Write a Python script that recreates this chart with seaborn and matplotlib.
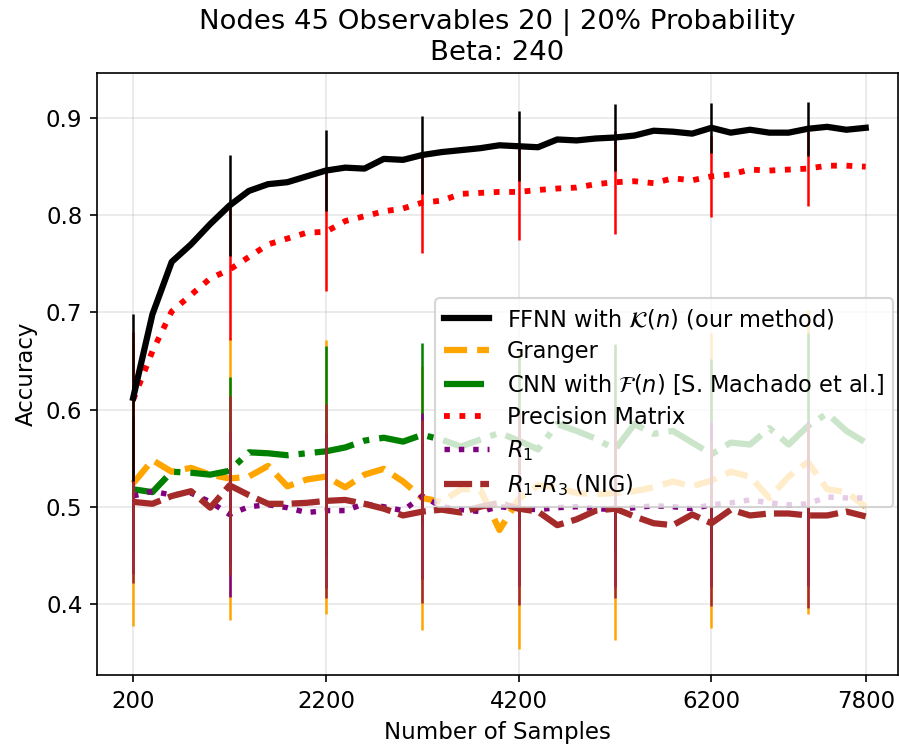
import matplotlib
matplotlib.use("Agg")
import matplotlib.pyplot as plt
import seaborn as sns

# Sample sizes (x axis) and per-method mean accuracy
samples = [200, 400, 600, 800, 1000, 1200, 1400, 1600, 1800, 2000,
           2200, 2400, 2600, 2800, 3000, 3200, 3400, 3600, 3800, 4000,
           4200, 4400, 4600, 4800, 5000, 5200, 5400, 5600, 5800, 6000,
           6200, 6400, 6600, 6800, 7000, 7200, 7400, 7600, 7800]

ffnn = [0.612, 0.698, 0.752, 0.770, 0.791, 0.810, 0.825, 0.832, 0.834, 0.840,
        0.846, 0.849, 0.848, 0.858, 0.857, 0.862, 0.865, 0.867, 0.869, 0.872,
        0.871, 0.870, 0.878, 0.877, 0.879, 0.880, 0.882, 0.887, 0.886, 0.884,
        0.890, 0.885, 0.888, 0.885, 0.885, 0.889, 0.891, 0.888, 0.890]
granger = [0.524, 0.548, 0.536, 0.540, 0.533, 0.529, 0.531, 0.542, 0.521, 0.528,
           0.531, 0.520, 0.533, 0.539, 0.526, 0.509, 0.505, 0.518, 0.518, 0.476,
           0.508, 0.522, 0.520, 0.514, 0.513, 0.514, 0.516, 0.520, 0.526, 0.521,
           0.527, 0.536, 0.531, 0.509, 0.531, 0.546, 0.518, 0.515, 0.500]
cnn = [0.518, 0.515, 0.536, 0.535, 0.533, 0.537, 0.556, 0.555, 0.553, 0.555,
       0.557, 0.561, 0.568, 0.571, 0.567, 0.574, 0.569, 0.562, 0.569, 0.576,
       0.568, 0.559, 0.585, 0.578, 0.570, 0.559, 0.585, 0.575, 0.578, 0.566,
       0.554, 0.566, 0.564, 0.581, 0.564, 0.583, 0.596, 0.578, 0.566]
precision = [0.610, 0.660, 0.701, 0.718, 0.735, 0.744, 0.757, 0.770, 0.776, 0.782,
             0.783, 0.794, 0.799, 0.804, 0.807, 0.813, 0.815, 0.822, 0.823, 0.824,
             0.824, 0.826, 0.8275, 0.8285, 0.832, 0.834, 0.835, 0.833, 0.838, 0.836,
             0.840, 0.842, 0.847, 0.846, 0.847, 0.848, 0.851, 0.851, 0.850]
r1 = [0.511, 0.516, 0.512, 0.514, 0.505, 0.492, 0.500, 0.502, 0.499, 0.494,
      0.496, 0.496, 0.503, 0.500, 0.496, 0.511, 0.500, 0.497, 0.495, 0.500,
      0.498, 0.497, 0.499, 0.500, 0.498, 0.497, 0.499, 0.501, 0.500, 0.498,
      0.502, 0.504, 0.507, 0.504, 0.502, 0.503, 0.510, 0.509, 0.509]
nig = [0.505, 0.503, 0.511, 0.516, 0.499, 0.522, 0.512, 0.503, 0.503, 0.504,
       0.506, 0.507, 0.503, 0.498, 0.491, 0.495, 0.497, 0.494, 0.500, 0.504,
       0.498, 0.495, 0.481, 0.487, 0.496, 0.498, 0.490, 0.483, 0.481, 0.492,
       0.483, 0.497, 0.491, 0.493, 0.493, 0.491, 0.491, 0.495, 0.490]

# Standard deviations, shown at every fifth sample size (200, 1200, ..., 7200)
err_every = 5
ffnn_err = [0.086, 0.052, 0.042, 0.040, 0.036, 0.034, 0.026, 0.028]
granger_err = [0.147, 0.146, 0.141, 0.136, 0.154, 0.151, 0.152, 0.156]
cnn_err = [0.065, 0.096, 0.108, 0.094, 0.087, 0.108, 0.098, 0.096]
precision_err = [0.070, 0.072, 0.061, 0.052, 0.049, 0.053, 0.042, 0.038]
r1_err = [0.080, 0.085, 0.080, 0.085, 0.080, 0.080, 0.085, 0.085]
nig_err = [0.084, 0.092, 0.100, 0.094, 0.099, 0.092, 0.085, 0.095]

x_ticks = [200, 2200, 4200, 6200, 7800]

labels = {
    "ffnn": r"FFNN with $\mathcal{K}(n)$ (our method)",
    "granger": "Granger",
    "cnn": r"CNN with $\mathcal{F}(n)$ [S. Machado et al.]",
    "precision": "Precision Matrix",
    "r1": r"$R_1$",
    "nig": r"$R_1$-$R_3$ (NIG)",
}

# drawing order (bottom to top) and legend order
draw_order = ["granger", "cnn", "r1", "nig", "precision", "ffnn"]
legend_order = ["ffnn", "granger", "cnn", "precision", "r1", "nig"]

series = {
    "ffnn": (ffnn, ffnn_err, "black", "-", 3.0),
    "granger": (granger, granger_err, "orange", "--", 3.0),
    "cnn": (cnn, cnn_err, "green", "-.", 3.0),
    "precision": (precision, precision_err, "red", ":", 2.8),
    "r1": (r1, r1_err, "purple", ":", 2.6),
    "nig": (nig, nig_err, "brown", (0, (4.5, 1.3)), 3.0),
}

plt.rcParams["font.size"] = 11

fig = plt.figure(figsize=(899 / 150, 749 / 150), dpi=150)
ax = fig.add_axes([97 / 899, 1 - 675 / 749, 801 / 899, 602 / 749])

handles = {}
for key in draw_order:
    vals, errs, color, ls, lw = series[key]
    ax.errorbar(samples[::err_every], vals[::err_every], yerr=errs,
                fmt="none", ecolor=color, elinewidth=1.2)
    sns.lineplot(x=samples, y=vals, color=color, linestyle=ls,
                 linewidth=lw, label=labels[key], ax=ax)
    handles[key] = ax.lines[-1]

ax.set_xlim(-175, 8135)
ax.set_ylim(0.3268, 0.9464)
ax.set_xticks(x_ticks)
ax.grid(True, alpha=0.3)
ax.set_xlabel("Number of Samples")
ax.set_ylabel("Accuracy")
ax.set_title("Nodes 45 Observables 20 | 20% Probability\nBeta: 240")

ax.legend([handles[k] for k in legend_order], [labels[k] for k in legend_order],
          loc="lower right", bbox_to_anchor=(0.994, 0.279), borderaxespad=0,
          fontsize=10.8, labelspacing=0.4)

fig.savefig("out.png", dpi=150)
